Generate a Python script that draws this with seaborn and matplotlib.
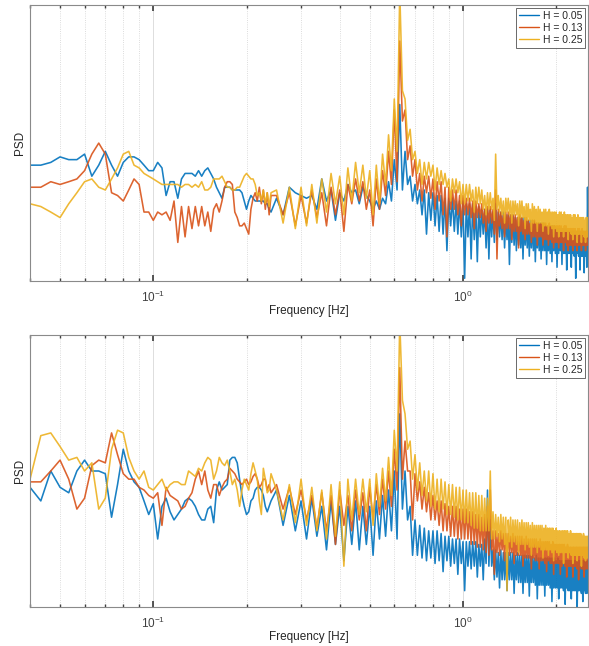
import numpy as np
import pandas as pd
import matplotlib
matplotlib.use('Agg')
import matplotlib.pyplot as plt
import seaborn as sns
from matplotlib.lines import Line2D
from matplotlib.ticker import NullFormatter

# series labels and MATLAB default colours
labels = ['H = 0.05', 'H = 0.13', 'H = 0.25']
colors = ['#0072BD', '#D95319', '#EDB120']

# frequency bins: raw FFT bins (df = 1/300 Hz) up to 0.24 Hz,
# then min/max envelope samples every 0.025 Hz up to 2.525 Hz
f_low = np.arange(12, 73) / 300
f_env = 0.25 + 0.025 * np.arange(92)

# ---- top panel (relative PSD level, 0..100) ----
top_low_05 = [42,42,43,45,44,44,46,38,42,47, 42,38,43,45,45,44,42,40,40,43,
              41,31,36,36,30,37,39,39,39,38, 40,38,40,41,39,37,34,32,30,34,
              34,34,33,33,33,33,32,29,26,29, 31,30,29,29,29,29,29,28,28,26,25]
top_low_13 = [34,34,36,35,36,37,40,46,50,46, 32,31,29,33,37,35,25,25,22,25,
              24,25,22,29,14,27,16,27,19,27, 20,27,20,25,18,26,28,25,29,34,
              36,36,35,25,23,20,20,21,19,17, 26,30,32,29,34,28,33,26,32,24,31]
top_low_25 = [28,27,25,23,28,32,36,37,34,33, 37,41,46,47,42,41,39,38,37,36,
              35,35,35,35,35,34,35,35,34,35, 34,36,33,33,34,37,37,37,38,36,
              34,34,33,33,34,34,36,38,39,38, 37,37,35,31,32,29,33,28,32,27,32]

top_hi_05 = [30,34,31,31,37,33,32,35,33,34, 29,29,30,36,44,64,47,38,35,33,
             33,32,32,31,31,30,30,30,29,29, 29,28,28,28,27,27,26,26,26,26,
             25,28,25,25,25,24,24,24,24,23, 23,23,23,23,22,22,22,22,22,21,
             21,21,21,21,20,20,20,20,20,20, 19,19,19,19,19,19,19,18,18,18,
             18,18,18,18,18,18,18,18,18,18, 18,34]
top_lo_05 = [24,32,30,26,29,22,29,32,28,31, 26,26,28,29,33,33,35,29,28,24,
             17,22,20,18,17,11,20,18,17,16, 1,16,8,15,7,16,17,12,8,16,
             14,15,16,15,12,15,6,14,13,11, 13,12,8,13,12,9,12,11,7,12,
             11,8,11,11,6,11,10,7,11,10, 5,10,11,6,10,10,4,10,10,5,
             10,9,1,10,9,4,9,9,3,9, 5,15]
top_hi_13 = [31,32,31,33,32,34,33,35,37,36, 33,37,40,47,62,87,62,49,44,39,
             38,38,37,36,36,34,34,33,33,31, 31,30,30,29,29,28,28,26,27,27,
             26,33,26,25,24,25,25,24,24,24, 23,24,23,22,23,22,21,22,22,21,
             21,21,21,21,21,20,21,20,20,20, 20,20,20,20,19,20,20,19,19,19,
             19,19,19,18,19,19,18,19,18,18, 18,18]
top_lo_13 = [24,20,21,23,20,24,18,28,29,26, 20,26,31,35,36,58,44,38,33,29,
             32,30,26,29,24,16,26,26,24,20, 24,24,23,19,23,23,21,18,21,21,
             17,8,20,19,16,19,19,15,18,18, 12,18,17,15,17,17,14,16,16,13,
             16,16,13,15,15,13,15,14,12,14, 14,12,14,14,11,14,13,11,13,13,
             11,13,13,11,13,13,11,13,13,11, 13,13]
top_hi_25 = [33,34,34,35,37,39,38,41,43,42, 40,42,46,53,66,105,66,55,47,44,
             43,43,42,41,40,39,37,37,37,36, 35,35,35,33,34,34,33,31,32,32,
             30,46,31,30,29,30,30,29,29,29, 28,29,29,27,28,28,26,28,27,26,
             27,26,25,26,26,25,26,25,25,25, 25,24,25,25,24,25,24,24,24,24,
             23,24,24,23,24,23,23,23,23,22, 23,23]
top_lo_25 = [21,19,20,21,25,28,24,29,32,30, 24,28,35,40,47,69,51,44,39,35,
             37,38,33,35,35,34,29,32,32,28, 28,29,29,25,28,28,26,24,26,26,
             22,26,25,24,21,25,24,21,24,24, 20,23,23,19,22,22,18,21,21,18,
             21,21,18,20,20,17,20,19,16,19, 18,16,18,18,16,18,18,15,18,17,
             15,17,17,14,17,17,14,17,16,14, 16,16]

# ---- bottom panel ----
bot_low_05 = [44,39,50,44,42,50,54,50,50,49, 33,45,58,50,46,44,39,34,38,25,
              37,40,35,32,34,36,39,40,39,37, 34,32,32,36,37,31,43,46,43,44,
              45,54,55,55,53,47,41,37,34,35, 39,40,43,44,44,43,41,37,35,37,39]
bot_low_13 = [46,46,50,54,47,36,40,52,54,53, 64,56,49,47,47,44,43,41,40,42,
              30,44,41,40,39,36,37,40,42,47, 50,45,50,43,40,45,45,41,44,46,
              47,51,50,49,47,46,45,46,47,45, 46,48,49,47,44,45,47,47,43,45,42]
bot_low_25 = [47,63,64,59,54,55,50,53,36,40, 58,65,64,55,50,47,50,44,43,45,
              47,43,45,46,46,45,45,50,49,48, 51,50,53,55,54,47,50,55,53,52,
              54,50,45,47,43,37,43,47,45,43, 49,53,50,47,39,34,51,47,42,43,49]

bot_hi_05 = [43,41,39,40,37,39,37,37,39,37, 37,39,41,43,50,71,50,37,32,30,
             29,28,28,28,27,26,26,25,25,25, 24,24,24,24,24,23,23,25,43,32,
             21,21,20,21,20,20,20,20,20,19, 20,19,19,19,19,19,19,19,18,19,
             18,18,18,18,18,18,18,18,18,18, 17,18,17,17,17,17,17,17,17,17,
             17,17,17,17,17,17,17,17,17,17, 17,17]
bot_lo_05 = [30,28,25,26,21,23,17,23,21,23, 19,25,26,28,25,36,32,19,19,18,
             17,18,16,17,13,17,15,16,12,16, 6,15,14,15,11,15,10,16,15,15,
             10,11,7,10,10,6,10,10,5,10, 9,9,5,9,9,4,9,9,8,3,
             8,8,8,4,8,8,7,2,7,7, 7,3,7,7,6,1,7,6,6,3,
             6,6,6,0,6,6,5,2,6,5, 5,10]
bot_hi_13 = [45,44,43,41,42,41,43,41,43,42, 44,45,47,50,58,88,61,50,49,46,
             44,42,41,39,39,38,37,37,37,36, 36,36,35,35,34,34,33,34,37,43,
             28,28,27,28,27,27,27,26,27,26, 26,26,26,25,26,25,25,25,25,25,
             24,25,24,24,24,24,24,23,24,23, 23,23,23,23,23,23,22,23,22,22,
             22,22,22,22,22,22,22,22,22,22, 22,22]
bot_lo_13 = [36,34,32,29,28,23,30,28,32,28, 32,34,36,37,43,47,50,32,39,36,
             35,32,32,30,28,28,26,26,25,25, 25,25,23,23,22,22,21,20,19,21,
             12,20,19,21,17,20,19,20,16,19, 19,19,15,18,18,18,14,18,17,17,
             14,17,17,16,13,17,16,16,12,16, 16,16,12,15,16,15,11,15,15,15,
             11,15,15,14,10,15,14,14,11,14, 14,14]
bot_hi_25 = [43,45,47,44,43,45,46,47,47,47, 47,49,51,55,65,105,71,61,56,53,
             50,50,49,47,47,46,45,45,44,44, 43,43,42,42,42,41,41,40,40,50,
             35,34,33,34,33,33,32,33,32,32, 32,31,32,31,31,31,30,31,30,30,
             30,30,30,29,30,29,29,29,29,28, 29,28,28,28,28,28,28,28,27,28,
             27,27,27,27,27,27,27,26,27,26, 26,26]
bot_lo_25 = [32,31,30,28,25,26,15,32,34,35, 30,37,39,41,50,76,58,47,43,41,
             39,37,36,35,36,34,34,33,32,32, 31,31,30,29,29,28,28,28,28,25,
             25,26,24,25,23,6,24,22,24,23, 20,23,23,21,23,22,19,22,22,20,
             22,21,18,21,21,19,21,20,17,21, 20,19,20,20,16,20,20,18,20,19,
             16,19,19,17,19,19,15,19,18,17, 18,18]

panels = [
    [(top_low_05, top_hi_05, top_lo_05),
     (top_low_13, top_hi_13, top_lo_13),
     (top_low_25, top_hi_25, top_lo_25)],
    [(bot_low_05, bot_hi_05, bot_lo_05),
     (bot_low_13, bot_hi_13, bot_lo_13),
     (bot_low_25, bot_hi_25, bot_lo_25)],
]


def build_frame(parts):
    rows = []
    f_dense = np.column_stack([f_env, f_env + 0.0125]).ravel()
    for lab, (low, hi, lo) in zip(labels, parts):
        f = np.concatenate([f_low, f_dense])
        y = np.concatenate([low, np.column_stack([hi, lo]).ravel()])
        rows.append(pd.DataFrame({'freq': f, 'level': y, 'H': lab}))
    return pd.concat(rows, ignore_index=True)


sns.set_theme(style='white')
plt.rcParams['font.family'] = ['Liberation Sans', 'DejaVu Sans']
plt.rcParams['mathtext.default'] = 'regular'

fig = plt.figure(figsize=(5.89, 6.46), dpi=100)
ax_pos = [[0.051, 0.565, 0.947, 0.427], [0.051, 0.0604, 0.947, 0.421]]

for pos, parts in zip(ax_pos, panels):
    ax = fig.add_axes(pos)
    df = build_frame(parts)
    sns.lineplot(data=df, x='freq', y='level', hue='H', hue_order=labels,
                 palette=colors, estimator=None, sort=False, lw=1.15,
                 alpha=0.9, legend=False, ax=ax)
    ax.set_xscale('log')
    ax.set_xlim(0.04, 2.53)
    ax.set_ylim(0, 100)
    ax.set_yticks([])
    ax.xaxis.set_minor_formatter(NullFormatter())
    ax.grid(which='major', axis='x', color='#d8d8d8', lw=0.6)
    ax.grid(which='minor', axis='x', color='#d0d0d0', lw=0.6, ls=':')
    ax.tick_params(axis='x', which='both', direction='in', top=True,
                   bottom=True, labelsize=8.5, pad=6, colors='#404040')
    ax.tick_params(axis='x', which='major', length=4)
    ax.tick_params(axis='x', which='minor', length=2)
    for s in ax.spines.values():
        s.set_color('#8a8a8a')
        s.set_linewidth(0.8)
    ax.set_xlabel('Frequency [Hz]', fontsize=8.5, labelpad=0, color='#262626')
    ax.set_ylabel('PSD', fontsize=8.5, labelpad=3, color='#262626')
    handles = [Line2D([], [], color=c, lw=1.0) for c in colors]
    leg = ax.legend(handles, labels, loc='upper right', fontsize=7.5,
                    frameon=True, fancybox=False, edgecolor='#262626',
                    handlelength=2.0, handletextpad=0.3, borderpad=0.3,
                    labelspacing=0.2, borderaxespad=0.25)
    leg.get_frame().set_linewidth(0.6)

fig.savefig('out.png', dpi=100)
